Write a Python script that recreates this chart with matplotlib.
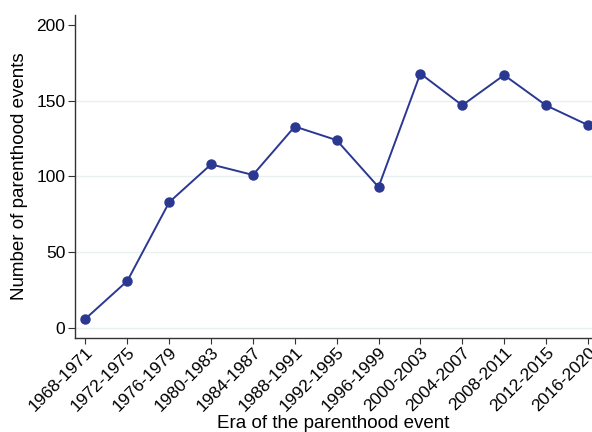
import matplotlib
matplotlib.use("Agg")
import matplotlib.pyplot as plt

plt.rcParams["font.family"] = ["Liberation Sans", "DejaVu Sans"]

eras = ["1968-1971", "1972-1975", "1976-1979", "1980-1983", "1984-1987",
        "1988-1991", "1992-1995", "1996-1999", "2000-2003", "2004-2007",
        "2008-2011", "2012-2015", "2016-2020"]
events = [6, 31, 83, 108, 101, 133, 124, 93, 168, 147, 167, 147, 134]
y_ticks = [0, 50, 100, 150, 200]
grid_at = [0, 50, 100, 150]

navy = "#2b3891"

fig = plt.figure(figsize=(5.92, 4.32), dpi=100)
ax = fig.add_axes([0.127, 0.218, 0.873, 0.747])

# light horizontal guides, none at the top tick
for g in grid_at:
    ax.axhline(g, color="#e8f0f2", lw=1.0, zorder=0)

x = list(range(len(eras)))
ax.plot(x, events, color=navy, lw=1.4, marker="o", markersize=6.5,
        markerfacecolor=navy, markeredgecolor=navy, zorder=3)

ax.set_xlim(-0.246, 12.1)
ax.set_ylim(-6.6, 206.6)
ax.set_yticks(y_ticks)
ax.set_xticks(x)
ax.set_xticklabels(eras, rotation=45, ha="right", rotation_mode="anchor")

for side in ("top", "right"):
    ax.spines[side].set_visible(False)
for side in ("left", "bottom"):
    ax.spines[side].set_color("#333333")
    ax.spines[side].set_linewidth(1.0)

ax.tick_params(axis="y", length=5, width=0.8, color="#333333",
               labelsize=12.5, pad=2)
ax.tick_params(axis="x", length=4, width=0.8, color="#333333",
               labelsize=12.5, pad=1)

ax.set_ylabel("Number of parenthood events", fontsize=13.5, labelpad=6)
ax.set_xlabel("Era of the parenthood event", fontsize=13.5, labelpad=0)

fig.savefig("out.png", dpi=100)
